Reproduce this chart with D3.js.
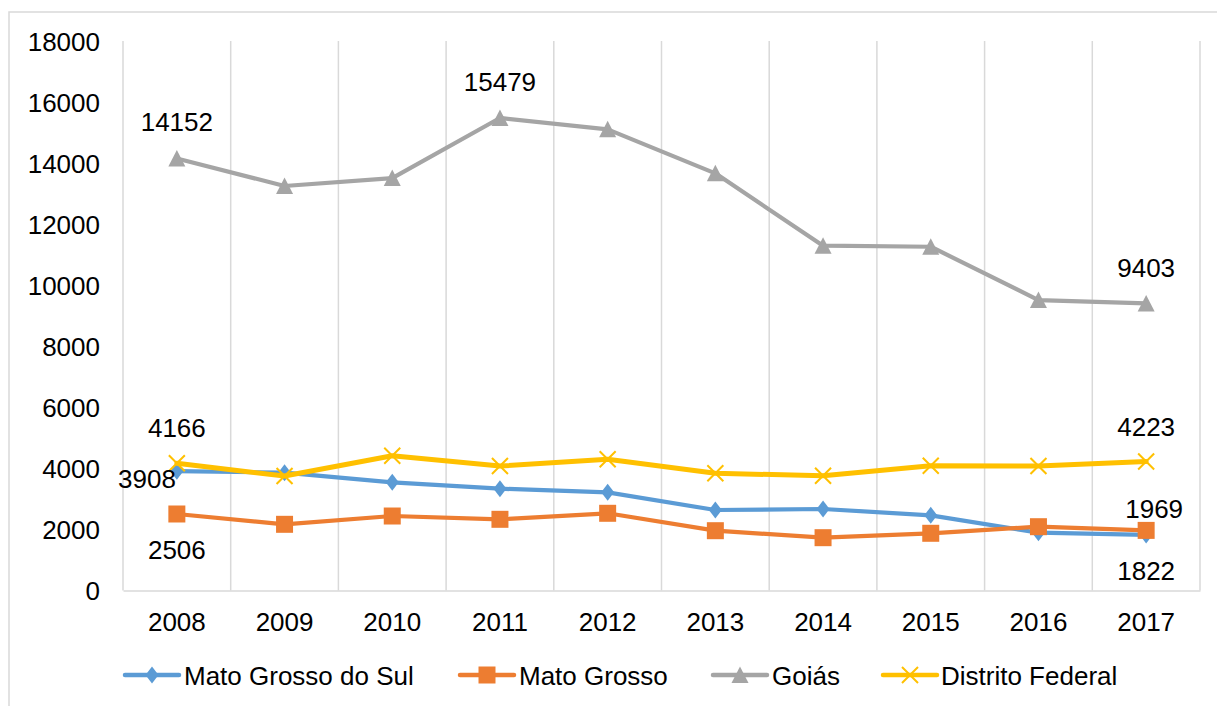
<!DOCTYPE html>
<html>
<head>
<meta charset="utf-8">
<script src="https://cdn.jsdelivr.net/npm/d3@7"></script>
<style>
  html, body { margin: 0; padding: 0; background: #fff; }
  svg { display: block; font-family: "Liberation Sans", Arial, sans-serif; }
</style>
</head>
<body>
<svg id="chart" width="1217" height="706"></svg>
<script>
// ---- Data ----
const years = ["2008","2009","2010","2011","2012","2013","2014","2015","2016","2017"];
const yTicks = [0, 2000, 4000, 6000, 8000, 10000, 12000, 14000, 16000, 18000];
const seriesNames = ["Mato Grosso do Sul", "Mato Grosso", "Goiás", "Distrito Federal"];
const matoGrossoDoSul = [3908, 3860, 3543, 3335, 3216, 2637, 2670, 2463, 1893, 1822];
const matoGrosso      = [2506, 2168, 2440, 2332, 2529, 1959, 1730, 1874, 2090, 1969];
const goias           = [14152, 13250, 13510, 15479, 15106, 13665, 11294, 11261, 9515, 9403];
const distritoFederal = [4166, 3750, 4415, 4078, 4297, 3839, 3760, 4088, 4078, 4223];
// which points carry a data label: [series index, year index]
const labelled = [[2,0],[2,3],[2,9],[3,0],[3,9],[0,0],[0,9],[1,0],[1,9]];

// ---- Styles / layout ----
const colors = ["#5B9BD5", "#ED7D31", "#A5A5A5", "#FFC000"];
const markers = ["diamond", "square", "triangle", "x"];
const plot = {left: 123, right: 1200, top: 41, bottom: 590.5};
const fontSize = 26;
// label placement per labelled point: [dx, dy (baseline), anchor]
const labelPlace = {
  "2-0": [0, -27, "middle"], "2-3": [0, -27, "middle"], "2-9": [0, -26, "middle"],
  "3-0": [0, -26, "middle"], "3-9": [0, -26, "middle"],
  "0-0": [-1, 17, "end"],    "0-9": [0, 45, "middle"],
  "1-0": [0, 45, "middle"],  "1-9": [8, -12, "middle"]
};

const svg = d3.select("#chart");
const allSeries = [matoGrossoDoSul, matoGrosso, goias, distritoFederal];

// outer border
svg.append("rect").attr("x", 9).attr("y", 12).attr("width", 1400).attr("height", 900)
  .attr("fill", "#fff").attr("stroke", "#D9D9D9").attr("stroke-width", 1.5);

const x = d3.scaleBand().domain(years).range([plot.left, plot.right]);
const cx = d => x(d) + x.bandwidth() / 2;
const y = d3.scaleLinear().domain([0, 18000]).range([plot.bottom, plot.top]);

// vertical gridlines
const gridX = years.map(d => x(d)).concat([plot.right]);
svg.append("g").selectAll("line").data(gridX).join("line")
  .attr("x1", d => d).attr("x2", d => d)
  .attr("y1", plot.top).attr("y2", plot.bottom)
  .attr("stroke", "#D9D9D9").attr("stroke-width", 1.5);

// bottom axis
const xAxis = svg.append("g").attr("transform", `translate(0,${plot.bottom})`)
  .call(d3.axisBottom(x).tickSize(0).tickPadding(22));
xAxis.select(".domain").attr("stroke", "#D9D9D9").attr("stroke-width", 1.5);
xAxis.selectAll("text").attr("font-size", fontSize).attr("fill", "#000")
  .attr("font-family", "Liberation Sans, Arial, sans-serif").attr("dy", "0.71em").attr("y", 22);

// left axis (labels only)
const yAxis = svg.append("g").attr("transform", `translate(100,0)`)
  .call(d3.axisLeft(y).tickValues(yTicks).tickSize(0).tickPadding(0).tickFormat(d3.format("d")));
yAxis.select(".domain").remove();
yAxis.selectAll("text").attr("font-size", fontSize).attr("fill", "#000")
  .attr("font-family", "Liberation Sans, Arial, sans-serif").attr("dy", "0.35em");

// marker drawing
function markerPath(type) {
  switch (type) {
    case "diamond": return "M0,-8.5L6.5,0L0,8.5L-6.5,0Z";
    case "square": return "M-8.5,-8.5H8.5V8.5H-8.5Z";
    case "triangle": return "M0,-8.5L8.5,8L-8.5,8Z";
    case "x": return "M-8,-8L8,8M-8,8L8,-8";
  }
}
function drawMarker(g, type, color) {
  const p = g.append("path").attr("d", markerPath(type));
  if (type === "x") p.attr("fill", "none").attr("stroke", color).attr("stroke-width", 2);
  else p.attr("fill", color);
}

const line = d3.line().x((d, i) => cx(years[i])).y(d => y(d));

allSeries.forEach((vals, s) => {
  const g = svg.append("g");
  g.append("path").datum(vals).attr("d", line)
    .attr("fill", "none").attr("stroke", colors[s])
    .attr("stroke-width", s === 3 ? 5 : 4.2).attr("stroke-linejoin", "round").attr("stroke-linecap", "round");
  vals.forEach((v, i) => {
    const mg = g.append("g").attr("transform", `translate(${cx(years[i])},${y(v)})`);
    drawMarker(mg, markers[s], colors[s]);
  });
});

// data labels
labelled.forEach(([s, i]) => {
  const v = allSeries[s][i];
  const pl = labelPlace[s + "-" + i];
  svg.append("text")
    .attr("x", cx(years[i]) + pl[0]).attr("y", y(v) + pl[1])
    .attr("text-anchor", pl[2]).attr("font-size", fontSize).attr("fill", "#000")
    .text(v);
});

// legend
const legendItems = [
  {lineX: 125, textX: 184},
  {lineX: 460, textX: 519},
  {lineX: 713, textX: 772},
  {lineX: 883, textX: 941}
];
const ly = 675;
seriesNames.forEach((name, s) => {
  const it = legendItems[s];
  const g = svg.append("g");
  g.append("line").attr("x1", it.lineX).attr("x2", it.lineX + 54)
    .attr("y1", ly).attr("y2", ly).attr("stroke", colors[s]).attr("stroke-width", 4.5)
    .attr("stroke-linecap", "round");
  const mg = g.append("g").attr("transform", `translate(${it.lineX + 27},${ly})`);
  drawMarker(mg, markers[s], colors[s]);
  g.append("text").attr("x", it.textX).attr("y", ly + 10).attr("font-size", fontSize)
    .attr("fill", "#000").text(name);
});
</script>
</body>
</html>
